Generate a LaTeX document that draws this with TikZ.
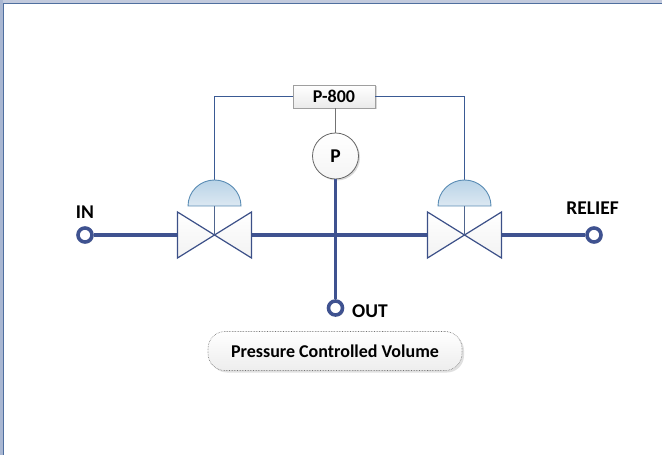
\documentclass[tikz,border=0pt]{standalone}
\usepackage{fontspec}
\setmainfont{Carlito}
\usetikzlibrary{shadows,calc}
\definecolor{pipe}{HTML}{3F5290}
\definecolor{sig}{HTML}{3A5A94}
\definecolor{valve}{HTML}{3C5088}
\definecolor{frameband}{HTML}{C2CADD}
\definecolor{frameside}{HTML}{A9B7D2}
\definecolor{frameline}{HTML}{4F6F9F}
\definecolor{domeedge}{HTML}{5B8DB5}
\definecolor{dometop}{HTML}{B9D3E7}
\definecolor{domebot}{HTML}{DCE8F2}
\tikzset{
  x=1bp,y=-1bp,
  pipeline/.style={draw=pipe,line width=3.4bp},
  signal/.style={draw=sig,line width=0.9bp},
  port/.style={circle,draw=pipe,fill=white,line width=3.6bp,minimum size=14bp,inner sep=0pt,drop shadow={shadow xshift=1.5bp,shadow yshift=-1.5bp,opacity=.18,fill=black}},
  lbl/.style={font=\fontsize{19.5bp}{21bp}\selectfont\bfseries,text=black,inner sep=0pt},
  tag/.style={draw=gray!75,line width=0.8bp,top color=white,bottom color=black!8,minimum width=82bp,minimum height=23bp,inner sep=0pt,font=\fontsize{18bp}{20bp}\selectfont\bfseries,drop shadow={shadow xshift=1.5bp,shadow yshift=-1.5bp,opacity=.15,fill=black}},
  gauge/.style={circle,draw=black!60,line width=0.8bp,top color=white,bottom color=black!4,minimum size=46bp,inner sep=0pt,font=\fontsize{19.5bp}{21bp}\selectfont\bfseries,drop shadow={shadow xshift=1.5bp,shadow yshift=-1.5bp,opacity=.15,fill=black}},
  pill/.style={rounded corners=17bp,draw=black!55,densely dotted,line width=0.6bp,top color=white,bottom color=black!7,minimum width=254bp,minimum height=39bp,inner sep=0pt,font=\fontsize{18bp}{20bp}\selectfont\bfseries,drop shadow={shadow xshift=2bp,shadow yshift=-2bp,opacity=.12,fill=black}},
  valvebody/.style={draw=valve,line width=1.2bp,top color=white,bottom color=black!5,line join=miter},
  domeshape/.style={draw=domeedge,line width=0.9bp,top color=dometop,bottom color=domebot},
  stem/.style={draw=sig!70!gray,line width=1bp},
}
\newcommand{\valveat}[1]{%
  \path[valvebody] ($(#1)+(-37,-23)$) -- (#1) -- ($(#1)+(-37,23)$) -- cycle;
  \path[valvebody] ($(#1)+(37,-23)$) -- (#1) -- ($(#1)+(37,23)$) -- cycle;
}
\newcommand{\domeat}[1]{%
  \path[domeshape] ($(#1)+(-26.5,0)$) arc[start angle=180,end angle=0,x radius=26.5bp,y radius=26bp] -- cycle;
}
\begin{document}
\begin{tikzpicture}
\useasboundingbox (0,0) rectangle (662,455);
\fill[white] (0,0) rectangle (662,455);
% window frame
\fill[frameband] (0,0) rectangle (662,3.5);
\fill[frameside] (0,0) rectangle (2.5,455);
\draw[frameline,line width=1bp] (662,4) -- (3,4) -- (3,455);
% coordinates
\coordinate (vl) at (214.5,235);
\coordinate (vr) at (464.5,235);
\coordinate (dl) at (214.5,206);
\coordinate (dr) at (464.5,206);
\coordinate (dlt) at (214.5,180);
\coordinate (drt) at (464.5,180);
\coordinate (lvr) at (251.5,235);
\coordinate (lvl) at (177.5,235);
\coordinate (rvr) at (501.5,235);
\coordinate (rvl) at (427.5,235);
% nodes
\node[port] (in) at (85,235) {};
\node[port] (relief) at (594,235) {};
\node[port] (out) at (335.5,308) {};
\node[tag] (tagbox) at (334,96.5) {P-800};
\node[gauge] (gauge) at (335.5,156) {P};
\node[pill] (cap) at (335,351) {Pressure Controlled Volume};
% pipes
\draw[pipeline] (in) -- (lvl);
\draw[pipeline] (lvr) -- (rvl);
\draw[pipeline] (rvr) -- (relief);
\draw[pipeline] (gauge.south) -- (out);
% signals
\draw[signal] (tagbox.west) -| (dlt);
\draw[signal] (tagbox.east) -| (drt);
\draw[draw=black!55,line width=0.9bp] (gauge.north |- tagbox.south) -- (gauge.north);
% valves
\valveat{vl}
\valveat{vr}
\draw[stem] (dl) -- (vl);
\draw[stem] (dr) -- (vr);
\domeat{dl}
\domeat{dr}
% labels
\node[lbl] (inl) at (85,212) {IN};
\node[lbl] (rl) at (592.5,208) {RELIEF};
\node[lbl] (outl) at (370,311) {OUT};
\end{tikzpicture}
\end{document}
